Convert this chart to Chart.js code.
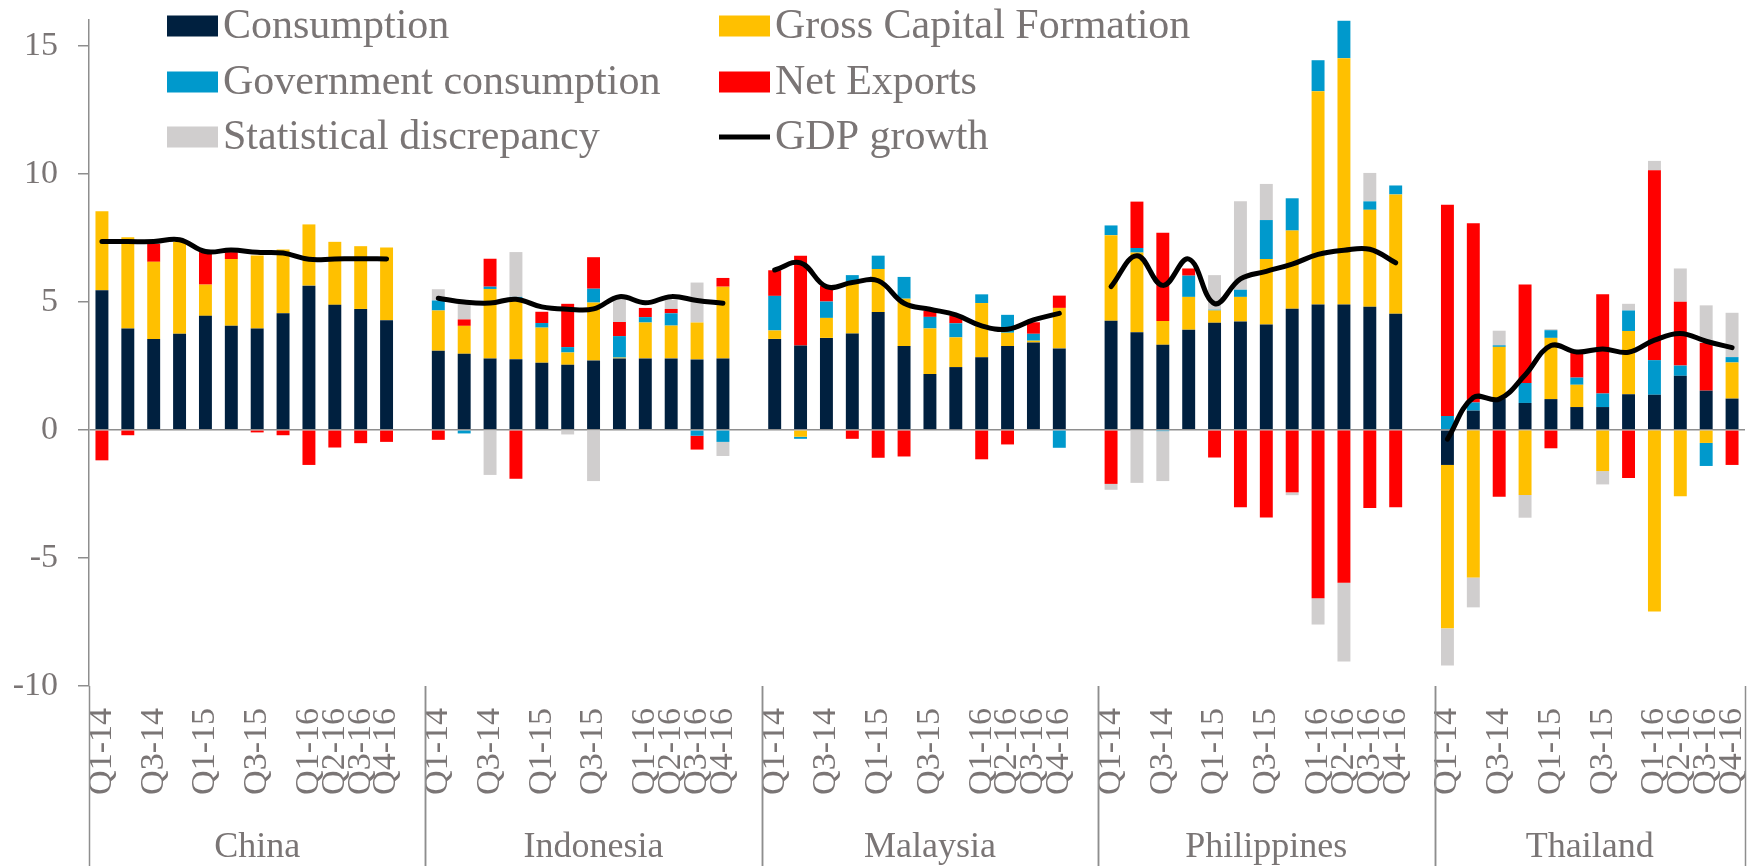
<!DOCTYPE html>
<html>
<head>
<meta charset="utf-8">
<script src="https://cdn.jsdelivr.net/npm/chart.js@4.4.1/dist/chart.umd.min.js"></script>
<style>
  html, body { margin: 0; padding: 0; background: #ffffff; }
  #wrap { width: 1752px; height: 866px; }
</style>
</head>
<body>
<div id="wrap"><canvas id="c" width="1752" height="866"></canvas></div>
<script>
// ---------------- DATA ----------------
const countries = ['China', 'Indonesia', 'Malaysia', 'Philippines', 'Thailand'];
const quarterLabels = ['Q1-14', '', 'Q3-14', '', 'Q1-15', '', 'Q3-15', '', 'Q1-16', 'Q2-16', 'Q3-16', 'Q4-16'];
const yTickValues = [-10, -5, 0, 5, 10, 15];

// Values ordered China, Indonesia, Malaysia, Philippines, Thailand (12 quarters each, Q1-14 .. Q4-16)
const consumption = [
  5.45, 3.96, 3.55, 3.75, 4.45, 4.06, 3.96, 4.55, 5.63, 4.88, 4.72, 4.28,
  3.09, 2.97, 2.79, 2.76, 2.62, 2.54, 2.71, 2.79, 2.79, 2.79, 2.75, 2.79,
  3.55, 3.29, 3.59, 3.76, 4.60, 3.27, 2.18, 2.45, 2.83, 3.27, 3.41, 3.18,
  4.26, 3.81, 3.32, 3.91, 4.18, 4.23, 4.11, 4.73, 4.89, 4.89, 4.81, 4.53,
  -1.37, 0.75, 1.22, 1.05, 1.20, 0.89, 0.89, 1.39, 1.37, 2.11, 1.53, 1.22
];
const grossCapital = [
  3.08, 3.56, 3.01, 3.58, 1.22, 2.61, 2.85, 2.49, 2.39, 2.46, 2.45, 2.84,
  1.57, 1.09, 2.71, 2.38, 1.37, 0.48, 2.26, 0.03, 1.40, 1.28, 1.44, 2.80,
  0.33, -0.27, 0.78, 2.02, 1.68, 1.85, 1.78, 1.16, 2.12, 0.52, 0.07, 1.58,
  3.34, 3.11, 0.93, 1.28, 0.48, 0.96, 2.56, 3.05, 8.33, 9.62, 3.78, 4.66,
  -6.38, -5.76, 2.02, -2.54, 2.39, 0.87, -1.61, 2.47, -7.09, -2.59, -0.51, 1.41
];
const govConsumption = [
  0, 0, 0, 0, 0, 0, 0, 0, 0, 0, 0, 0,
  0.39, -0.14, 0.09, 0.05, 0.18, 0.21, 0.54, 0.84, 0.21, 0.48, -0.23, -0.47,
  1.35, -0.08, 0.64, 0.26, 0.52, 0.85, 0.45, 0.55, 0.34, 0.70, 0.27, -0.70,
  0.38, 0.18, -0.05, 0.83, 0.03, 0.28, 1.52, 1.26, 1.21, 1.46, 0.33, 0.35,
  0.54, 0.32, 0.06, 0.78, 0.30, 0.28, 0.53, 0.80, 1.35, 0.40, -0.90, 0.21
];
const netExports = [
  -1.19, -0.21, 0.70, 0, 1.27, 0.27, -0.10, -0.21, -1.37, -0.69, -0.52, -0.47,
  -0.39, 0.25, 1.09, -1.91, 0.44, 1.69, 1.23, 0.55, 0.36, 0.17, -0.54, 0.34,
  1.00, 3.51, 0.61, -0.35, -1.09, -1.04, 0.23, 0.29, -1.15, -0.57, 0.45, 0.48,
  -2.11, 1.81, 3.44, 0.28, -1.08, -3.02, -3.42, -2.44, -6.57, -5.97, -3.05, -3.02,
  8.25, 7.00, -2.61, 3.84, -0.72, 0.96, 3.87, -1.88, 7.41, 2.49, 1.86, -1.37
];
const statDiscrepancy = [
  0, 0, 0, 0, 0, 0, 0, 0, 0, 0, 0, 0,
  0.44, 0.75, -1.76, 1.75, 0, -0.18, -2.00, 0.95, 0, 0.35, 1.56, -0.55,
  0, 0, 0, 0, 0, 0, 0, 0, 0, 0, 0, 0,
  -0.23, -2.07, -1.95, 0, 1.35, 3.45, 1.41, -0.11, -1.03, -3.07, 1.11, 0,
  -1.45, -1.17, 0.57, -0.89, 0.04, 0, -0.52, 0.26, 0.37, 1.30, 1.47, 1.73
];
const gdpGrowth = [
  7.35, 7.35, 7.35, 7.42, 6.96, 7.02, 6.93, 6.90, 6.66, 6.67, 6.68, 6.67,
  5.14, 4.99, 4.95, 5.10, 4.80, 4.71, 4.72, 5.20, 4.96, 5.20, 5.05, 4.94,
  6.24, 6.52, 5.59, 5.75, 5.82, 4.94, 4.71, 4.49, 4.06, 3.93, 4.29, 4.55,
  5.59, 6.80, 5.64, 6.67, 4.93, 5.89, 6.19, 6.47, 6.85, 7.01, 7.05, 6.52,
  -0.36, 1.26, 1.20, 2.14, 3.29, 3.04, 3.16, 3.03, 3.50, 3.76, 3.46, 3.21
];

// ---------------- BUILD (insert an empty slot between countries) ----------------
const perGroup = quarterLabels.length;
function withGaps(arr, gapValue) {
  const out = [];
  countries.forEach((c, g) => {
    for (let i = 0; i < perGroup; i++) out.push(arr[g * perGroup + i]);
    if (g < countries.length - 1) out.push(gapValue);
  });
  return out;
}
const labels = [];
countries.forEach((c, g) => {
  quarterLabels.forEach(q => labels.push(q));
  if (g < countries.length - 1) labels.push('');
});

const TEXT = '#7a7575';
const AXIS = '#8e8e8e';
const SERIF = "'Liberation Serif', 'DejaVu Serif', serif";

function bar(label, arr, color) {
  return {
    type: 'bar', label, data: withGaps(arr, null), backgroundColor: color,
    borderWidth: 0, barPercentage: 0.5, categoryPercentage: 1.0, stack: 'parts', order: 1
  };
}

const datasets = [
  bar('Consumption', consumption, '#00203f'),
  bar('Gross Capital Formation', grossCapital, '#ffc000'),
  bar('Government consumption', govConsumption, '#0099cc'),
  bar('Net Exports', netExports, '#ff0000'),
  bar('Statistical discrepancy', statDiscrepancy, '#d0cece'),
  {
    type: 'line', label: 'GDP growth', data: withGaps(gdpGrowth, null),
    borderColor: '#000000', backgroundColor: '#000000', borderWidth: 5,
    pointRadius: 0, tension: 0.4, spanGaps: false, stack: 'gdp', order: 0,
    borderCapStyle: 'round'
  }
];

// ---------------- PLUGINS ----------------
const legendPlugin = {
  id: 'gridLegend',
  afterDraw(chart) {
    const ctx = chart.ctx;
    const colX = [167, 719];
    const rowY = [26, 82, 137];
    ctx.save();
    ctx.font = "42px " + SERIF;
    ctx.textBaseline = 'middle';
    ctx.textAlign = 'left';
    chart.data.datasets.forEach((ds, i) => {
      const x = colX[i % 2];
      const y = rowY[Math.floor(i / 2)];
      if (ds.type === 'line') {
        ctx.fillStyle = ds.borderColor;
        ctx.fillRect(x, y - 2.5, 51, 5);
      } else {
        ctx.fillStyle = ds.backgroundColor;
        ctx.fillRect(x, y - 10.5, 51, 21);
      }
      ctx.fillStyle = TEXT;
      ctx.fillText(ds.label, x + 56, y + 1);
    });
    ctx.restore();
  }
};

const groupPlugin = {
  id: 'groupAxis',
  afterDraw(chart) {
    const ctx = chart.ctx;
    const xs = chart.scales.x;
    const area = chart.chartArea;
    const slot = xs.getPixelForValue(1) - xs.getPixelForValue(0);
    ctx.save();
    ctx.strokeStyle = AXIS;
    ctx.lineWidth = 1.5;
    ctx.fillStyle = TEXT;
    ctx.font = "36px " + SERIF;
    ctx.textAlign = 'center';
    ctx.textBaseline = 'alphabetic';
    let start = 0;
    countries.forEach((name, g) => {
      const n = perGroup + (g < countries.length - 1 ? 1 : 0);
      const left = xs.getPixelForValue(start) - slot / 2;
      const right = xs.getPixelForValue(start + n - 1) + slot / 2;
      [left, right].forEach(px => {
        ctx.beginPath();
        ctx.moveTo(Math.round(px) + 0.5, area.bottom);
        ctx.lineTo(Math.round(px) + 0.5, chart.height);
        ctx.stroke();
      });
      ctx.fillText(name, (left + right) / 2, 857);
      start += n;
    });
    ctx.restore();
  }
};

// ---------------- CHART ----------------
new Chart(document.getElementById('c'), {
  type: 'bar',
  data: { labels, datasets },
  options: {
    responsive: false,
    animation: false,
    devicePixelRatio: 1,
    layout: { padding: { top: 20, right: 7, left: 0, bottom: 0 } },
    plugins: { legend: { display: false }, tooltip: { enabled: false } },
    scales: {
      x: {
        stacked: true,
        offset: true,
        grid: { display: false, drawTicks: false },
        border: { display: false },
        ticks: {
          autoSkip: false, minRotation: 90, maxRotation: 90, padding: 22,
          color: TEXT, font: { family: SERIF, size: 34 }
        },
        afterFit(s) { s.height = 180; s.paddingLeft = 0; s.paddingRight = 0; }
      },
      y: {
        stacked: true,
        min: -10, max: 16,
        afterBuildTicks(s) { s.ticks = yTickValues.map(v => ({ value: v })); },
        ticks: { color: TEXT, font: { family: SERIF, size: 34 }, padding: 20 },
        grid: {
          color: c => (c.tick && c.tick.value === 0) ? AXIS : 'rgba(0,0,0,0)',
          lineWidth: 1.5,
          tickColor: AXIS, tickLength: 11, drawTicks: true
        },
        border: { display: true, color: AXIS, width: 1.5 },
        afterFit(s) { s.width = 89; s.paddingTop = 0; s.paddingBottom = 0; }
      }
    }
  },
  plugins: [groupPlugin, legendPlugin]
});
</script>
</body>
</html>
